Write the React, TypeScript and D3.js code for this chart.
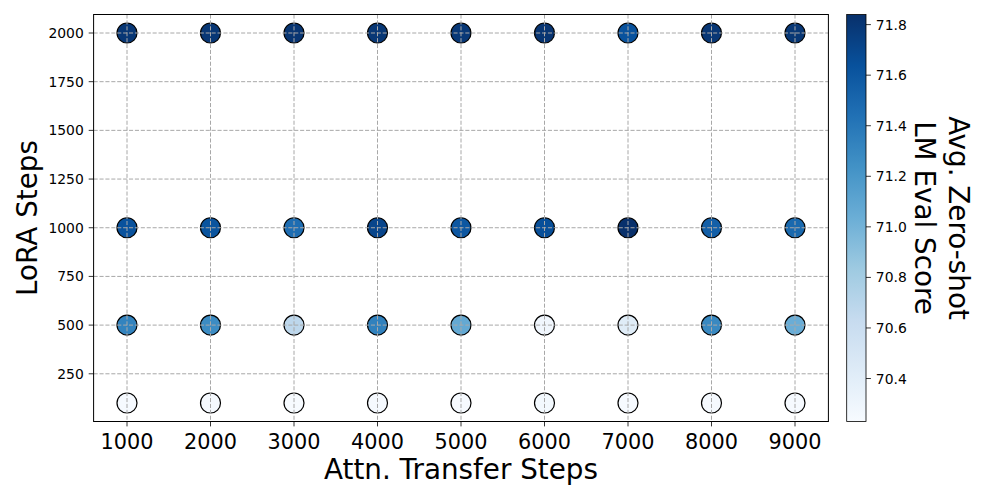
import React from "react";
import * as d3 from "d3";

const attnSteps = [1000, 2000, 3000, 4000, 5000, 6000, 7000, 8000, 9000];
const loraSteps = [100, 500, 1000, 2000];
const scoresLora100 = [70.24, 70.25, 70.23, 70.25, 70.24, 70.26, 70.24, 70.25, 70.24];
const scoresLora500 = [71.33, 71.27, 70.68, 71.34, 71.07, 70.29, 70.42, 71.29, 71.04];
const scoresLora1000 = [71.63, 71.62, 71.46, 71.71, 71.6, 71.65, 71.84, 71.55, 71.49];
const scoresLora2000 = [71.8, 71.8, 71.81, 71.8, 71.79, 71.81, 71.63, 71.8, 71.8];
const xTicks = [1000, 2000, 3000, 4000, 5000, 6000, 7000, 8000, 9000];
const yTicks = [250, 500, 750, 1000, 1250, 1500, 1750, 2000];
const cbTicks = [70.4, 70.6, 70.8, 71.0, 71.2, 71.4, 71.6, 71.8];
const bluesColors = ["#f7fbff", "#deebf7", "#c6dbef", "#9ecae1", "#6baed6", "#4292c6", "#2171b5", "#08519c", "#08306b"];

const scoreRows = [scoresLora100, scoresLora500, scoresLora1000, scoresLora2000];

const FONT = "DejaVu Sans, sans-serif";

export default function App() {
  const W = 1000, H = 500;
  const left = 93.6, right = 828.4, top = 14.5, bottom = 421.5;
  const x = d3.scaleLinear().domain([600, 9400]).range([left, right]);
  const y = d3.scaleLinear().domain([5, 2095]).range([bottom, top]);
  const allScores = scoreRows.flat();
  const vmin = d3.min(allScores) as number;
  const vmax = d3.max(allScores) as number;
  const t = d3.scaleLinear().domain([vmin, vmax]).range([0, 1]).clamp(true);
  const blues = d3
    .scaleLinear<string>()
    .domain(bluesColors.map((_, i) => i / (bluesColors.length - 1)))
    .range(bluesColors)
    .interpolate(d3.interpolateRgb);
  const color = (v: number) => blues(t(v));

  const cbLeft = 846.7, cbRight = 866, cbTop = top, cbBottom = bottom;
  const cy = d3.scaleLinear().domain([vmin, vmax]).range([cbBottom, cbTop]);

  const points: { xv: number; yv: number; s: number }[] = [];
  loraSteps.forEach((lv, ri) => {
    attnSteps.forEach((av, ci) => {
      points.push({ xv: av, yv: lv, s: scoreRows[ri][ci] });
    });
  });

  return (
    <div style={{ position: "absolute", left: 0, top: 0 }}>
      <svg width={W} height={H} style={{ display: "block", background: "#fff" }} fontFamily={FONT}>
        <defs>
          <linearGradient id="cbgrad" x1="0" y1="1" x2="0" y2="0">
            {bluesColors.map((c, i) => (
              <stop key={i} offset={`${(i / (bluesColors.length - 1)) * 100}%`} stopColor={c} />
            ))}
          </linearGradient>
        </defs>
        {/* points */}
        <g>
          {points.map((p, i) => (
            <circle key={i} cx={x(p.xv)} cy={y(p.yv)} r={10} fill={color(p.s)} stroke="#000" strokeWidth={1.2} />
          ))}
        </g>
        {/* grid (drawn above points as in reference) */}
        <g stroke="#a8a8a8" strokeWidth={1} strokeDasharray="4.1,1.8">
          {xTicks.map((v) => (
            <line key={"gx" + v} x1={x(v)} x2={x(v)} y1={top} y2={bottom} />
          ))}
          {yTicks.map((v) => (
            <line key={"gy" + v} x1={left} x2={right} y1={y(v)} y2={y(v)} />
          ))}
        </g>
        {/* frame */}
        <rect x={left} y={top} width={right - left} height={bottom - top} fill="none" stroke="#000" strokeWidth={1} />
        {/* x ticks */}
        <g>
          {xTicks.map((v) => (
            <g key={"xt" + v}>
              <line x1={x(v)} x2={x(v)} y1={bottom} y2={bottom + 4.9} stroke="#000" strokeWidth={0.8} />
              <text x={x(v)} y={bottom + 27} textAnchor="middle" fontSize={20.8} fill="#000">
                {v}
              </text>
            </g>
          ))}
        </g>
        {/* y ticks */}
        <g>
          {yTicks.map((v) => (
            <g key={"yt" + v}>
              <line x1={left - 4.9} x2={left} y1={y(v)} y2={y(v)} stroke="#000" strokeWidth={0.8} />
              <text x={left - 9.8} y={y(v)} dy="0.36em" textAnchor="end" fontSize={13.9} fill="#000">
                {v}
              </text>
            </g>
          ))}
        </g>
        {/* axis labels */}
        <text x={(left + right) / 2} y={479} textAnchor="middle" fontSize={27.8} fill="#000">
          Attn. Transfer Steps
        </text>
        <text transform={`translate(37, ${(top + bottom) / 2}) rotate(-90)`} textAnchor="middle" fontSize={27.8} fill="#000">
          LoRA Steps
        </text>
        {/* colorbar */}
        <rect x={cbLeft} y={cbTop} width={cbRight - cbLeft} height={cbBottom - cbTop} fill="url(#cbgrad)" stroke="#000" strokeWidth={0.8} />
        {cbTicks.map((v) => (
          <g key={"cb" + v}>
            <line x1={cbRight} x2={cbRight + 4.9} y1={cy(v)} y2={cy(v)} stroke="#000" strokeWidth={0.8} />
            <text x={cbRight + 9.8} y={cy(v)} dy="0.36em" textAnchor="start" fontSize={13.9} fill="#000">
              {v.toFixed(1)}
            </text>
          </g>
        ))}
        <text transform={`translate(949, ${(cbTop + cbBottom) / 2}) rotate(90)`} textAnchor="middle" fontSize={27.8} fill="#000">
          Avg. Zero-shot
        </text>
        <text transform={`translate(915, ${(cbTop + cbBottom) / 2}) rotate(90)`} textAnchor="middle" fontSize={27.8} fill="#000">
          LM Eval Score
        </text>
      </svg>
    </div>
  );
}
